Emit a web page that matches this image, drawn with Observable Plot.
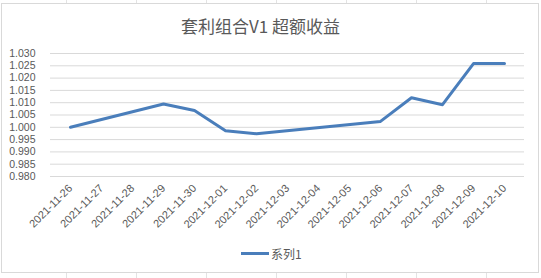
<!DOCTYPE html>
<html><head><meta charset="utf-8">
<script src="https://cdn.jsdelivr.net/npm/d3@7"></script>
<script src="https://cdn.jsdelivr.net/npm/@observablehq/plot@0.6"></script>
<style>
body{margin:0;width:541px;height:278px;overflow:hidden;position:relative;font-family:"Liberation Sans",Arial,sans-serif;
background:#fff repeating-linear-gradient(90deg,transparent 0 66px,#e3e3e3 66px 67px,transparent 67px 70px);}
#chart{position:absolute;left:1px;top:3px;width:538px;height:270px;box-sizing:border-box;border:1px solid #d9d9d9;background:#fff}
#title{position:absolute;left:0;width:521px;top:16px;text-align:center;font-family:"Noto Sans CJK SC",sans-serif;font-size:17px;line-height:20px;color:#595959}
#plot{position:absolute;left:0;top:40px}
#legend{position:absolute;left:241px;top:244px;height:18px;display:flex;align-items:center;font-family:"Noto Sans CJK SC",sans-serif;font-size:12px;color:#595959}
#legend .sw{width:28px;height:3px;background:#4a7ebb;margin-right:2px}
</style></head>
<body>
<div id="chart"></div>
<div id="title">套利组合V1 超额收益</div>
<div id="plot"></div>
<div id="legend"><span class="sw"></span><span>系列1</span></div>
<script>
const allDates = ["2021-11-26","2021-11-27","2021-11-28","2021-11-29","2021-11-30","2021-12-01","2021-12-02","2021-12-03","2021-12-04","2021-12-05","2021-12-06","2021-12-07","2021-12-08","2021-12-09","2021-12-10"];
const tradeDates = ["2021-11-26","2021-11-29","2021-11-30","2021-12-01","2021-12-02","2021-12-06","2021-12-07","2021-12-08","2021-12-09","2021-12-10"];
const values = [1.0000,1.0095,1.0068,0.9986,0.9974,1.0024,1.0120,1.0092,1.0259,1.0259];
const yTicks = [0.980,0.985,0.990,0.995,1.000,1.005,1.010,1.015,1.020,1.025,1.030];
const seriesName = "系列1";

const data = tradeDates.map((d,i)=>({date:d, value:values[i]}));
const chart = Plot.plot({
  width:541, height:200,
  marginTop:13, marginBottom:64, marginLeft:50, marginRight:17,
  style:{fontFamily:"Liberation Sans, Arial, sans-serif", fontSize:"10.5px", color:"#595959", background:"transparent"},
  x:{type:"point", domain:allDates, padding:0.5},
  y:{domain:[0.980,1.030]},
  marks:[
    Plot.gridY(yTicks,{stroke:"#d9d9d9", strokeOpacity:1}),
    Plot.axisY(yTicks,{tickSize:0, tickPadding:15, tickFormat:d3.format(".3f"), label:null, fill:"#595959"}),
    Plot.axisX({tickSize:0, tickRotate:-45, tickPadding:10, label:null, fill:"#595959", fontSize:11}),
    Plot.line(data,{x:"date", y:"value", stroke:"#4a7ebb", strokeWidth:3, strokeLinejoin:"round", strokeLinecap:"round"})
  ]
});
document.getElementById("plot").appendChild(chart);
</script>
</body></html>
